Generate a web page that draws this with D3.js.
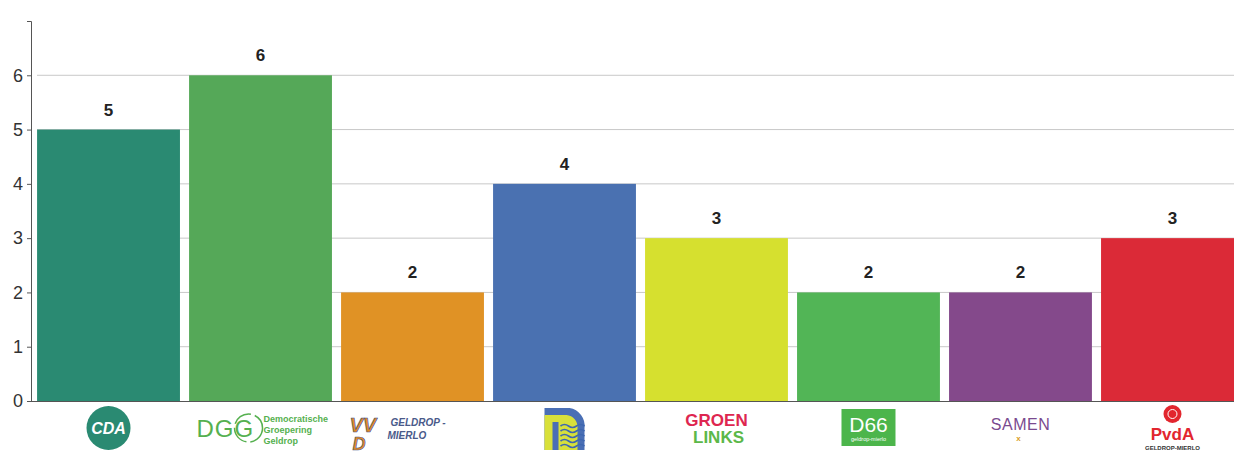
<!DOCTYPE html>
<html>
<head>
<meta charset="utf-8">
<script src="https://cdn.jsdelivr.net/npm/d3@7"></script>
<style>
  html, body { margin: 0; padding: 0; background: #fff; }
  svg { display: block; font-family: "Liberation Sans", Arial, sans-serif; }
</style>
</head>
<body>
<div class="container"></div>
<script>
// party names and seats
const parties = ['CDA', 'DGG', 'VVD', 'Dorpsbelang', 'GroenLinks', 'D66', 'SAMEN', 'PvdA'];
const seats = [5, 6, 2, 4, 3, 2, 2, 3];
const colors = ['#2a8a72', '#55a858', '#e09225', '#4a71b1', '#d6e02f', '#52b556', '#84498b', '#db2a37'];
const yTicks = [0, 1, 2, 3, 4, 5, 6, 7];

const width = 1234, height = 454;

const svg = d3.select('.container').append('svg')
  .attr('width', width)
  .attr('height', height);

const x = d3.scaleBand()
  .domain(parties)
  .range([31, 1250])
  .paddingInner(0.06)
  .paddingOuter(0.04);

const y = d3.scaleLinear().domain([0, 7]).range([401, 21]);

// gridlines
svg.append('g')
  .selectAll('line')
  .data(yTicks.filter(d => d > 0 && d < 7))
  .enter().append('line')
  .attr('x1', 37).attr('x2', width)
  .attr('y1', d => y(d)).attr('y2', d => y(d))
  .attr('stroke', '#c8c8c8')
  .attr('stroke-width', 1);

// bars
svg.append('g')
  .selectAll('rect')
  .data(parties)
  .enter().append('rect')
  .attr('x', d => x(d))
  .attr('y', (d, i) => y(seats[i]))
  .attr('width', x.bandwidth())
  .attr('height', (d, i) => y(0) - y(seats[i]))
  .attr('fill', (d, i) => colors[i]);

// value labels
svg.append('g')
  .selectAll('text')
  .data(parties)
  .enter().append('text')
  .attr('x', d => x(d) + x.bandwidth() / 2)
  .attr('y', (d, i) => y(seats[i]) - 14)
  .attr('text-anchor', 'middle')
  .attr('font-size', 17)
  .attr('font-weight', 'bold')
  .attr('fill', '#222')
  .text((d, i) => seats[i]);

// y axis
const yAxis = svg.append('g')
  .attr('transform', 'translate(31,0)')
  .call(d3.axisLeft(y).tickValues(yTicks).tickSize(4).tickSizeOuter(4)
    .tickFormat(d => d === 7 ? '' : d));
yAxis.select('.domain').attr('stroke', '#555');
yAxis.selectAll('.tick line').attr('stroke', '#555');
yAxis.selectAll('.tick text')
  .attr('font-size', 18)
  .attr('font-family', '"Liberation Sans", Arial, sans-serif')
  .attr('fill', '#333')
  .attr('x', -8);

// baseline
svg.append('line')
  .attr('x1', 27).attr('x2', width)
  .attr('y1', y(0) + 0.5).attr('y2', y(0) + 0.5)
  .attr('stroke', '#555')
  .attr('stroke-width', 1);

// logos under each bar
const logos = svg.append('g');
const cx = d => x(d) + x.bandwidth() / 2;

// CDA
let g = logos.append('g').attr('transform', `translate(${cx('CDA')},428)`);
g.append('circle').attr('r', 22).attr('fill', '#2a8a72');
g.append('text').attr('y', 6).attr('text-anchor', 'middle')
  .attr('font-size', 16).attr('font-weight', 'bold').attr('font-style', 'italic')
  .attr('fill', '#fff').text('CDA');

// DGG
g = logos.append('g').attr('transform', `translate(${cx('DGG')},428)`);
g.append('text').attr('x', -64).attr('y', 9)
  .attr('font-size', 24).attr('fill', '#55b04f').attr('letter-spacing', 1)
  .text('DGG');
g.append('circle').attr('cx', -12).attr('cy', 0).attr('r', 14)
  .attr('fill', 'none').attr('stroke', '#55b04f').attr('stroke-width', 1.5)
  .attr('stroke-dasharray', '20 4');
['Democratische', 'Groepering', 'Geldrop'].forEach((t, i) => {
  g.append('text').attr('x', 3).attr('y', -6 + i * 11)
    .attr('font-size', 9).attr('font-weight', 'bold').attr('fill', '#55b04f').text(t);
});

// VVD
g = logos.append('g').attr('transform', `translate(${cx('VVD')},428)`);
g.append('text').attr('x', -63).attr('y', 4)
  .attr('font-size', 20).attr('font-weight', 'bold').attr('font-style', 'italic')
  .attr('fill', '#e08a24').attr('stroke', '#3c4f8c').attr('stroke-width', 0.6)
  .text('VV');
g.append('text').attr('x', -60).attr('y', 22)
  .attr('font-size', 18).attr('font-weight', 'bold').attr('font-style', 'italic')
  .attr('fill', '#e08a24').attr('stroke', '#3c4f8c').attr('stroke-width', 0.6)
  .text('D');
g.append('text').attr('x', -22).attr('y', -2)
  .attr('font-size', 10).attr('font-weight', 'bold').attr('font-style', 'italic')
  .attr('fill', '#4a5a8a').text('GELDROP -');
g.append('text').attr('x', -25).attr('y', 11)
  .attr('font-size', 10).attr('font-weight', 'bold').attr('font-style', 'italic')
  .attr('fill', '#4a5a8a').text('MIERLO');

// Dorpsbelang
g = logos.append('g').attr('transform', `translate(${cx('Dorpsbelang')},428)`);
g.append('path')
  .attr('d', 'M-20,-20 H5 A18,18 0 0 1 20,0 V22 H-20 Z')
  .attr('fill', '#4a6fb5');
g.append('path')
  .attr('d', 'M-20,-13 H2 A12,12 0 0 1 13,0 V22 H-20 Z')
  .attr('fill', '#d8e03a');
g.append('rect').attr('x', -12).attr('y', -6).attr('width', 6).attr('height', 28).attr('fill', '#4a6fb5');
for (let i = 0; i < 5; i++) {
  g.append('path')
    .attr('d', `M-4,${-2 + i * 5} q4,-3 8,0 t8,0 t8,0`)
    .attr('fill', 'none').attr('stroke', '#3f67b0').attr('stroke-width', 1.6);
}

// GroenLinks
g = logos.append('g').attr('transform', `translate(${cx('GroenLinks')},428)`);
g.append('text').attr('y', -2).attr('text-anchor', 'middle')
  .attr('font-size', 17).attr('font-weight', 'bold').attr('fill', '#de2650').text('GROEN');
g.append('text').attr('x', 2).attr('y', 15).attr('text-anchor', 'middle')
  .attr('font-size', 17).attr('font-weight', 'bold').attr('fill', '#5cb849').text('LINKS');

// D66
g = logos.append('g').attr('transform', `translate(${cx('D66')},428)`);
g.append('rect').attr('x', -27).attr('y', -19).attr('width', 54).attr('height', 37).attr('fill', '#4cb54b');
g.append('text').attr('y', 4).attr('text-anchor', 'middle')
  .attr('font-size', 21).attr('fill', '#fff').text('D66');
g.append('text').attr('y', 13).attr('text-anchor', 'middle')
  .attr('font-size', 5.5).attr('fill', '#fff').text('geldrop-mierlo');

// SAMEN
g = logos.append('g').attr('transform', `translate(${cx('SAMEN')},428)`);
g.append('text').attr('y', 2).attr('text-anchor', 'middle')
  .attr('font-size', 16).attr('fill', '#7a4a8f').attr('letter-spacing', 0.5).text('SAMEN');
g.append('text').attr('x', -2).attr('y', 13).attr('text-anchor', 'middle')
  .attr('font-size', 8).attr('font-weight', 'bold').attr('fill', '#d9a02a').text('x');

// PvdA
g = logos.append('g').attr('transform', `translate(${cx('PvdA')},428)`);
g.append('circle').attr('cx', 0).attr('cy', -14).attr('r', 9).attr('fill', '#e2262e');
g.append('circle').attr('cx', 0).attr('cy', -14).attr('r', 4.5)
  .attr('fill', 'none').attr('stroke', '#fff').attr('stroke-width', 1);
g.append('text').attr('y', 12).attr('text-anchor', 'middle')
  .attr('font-size', 17).attr('font-weight', 'bold').attr('fill', '#e2262e').text('PvdA');
g.append('text').attr('y', 22).attr('text-anchor', 'middle')
  .attr('font-size', 6).attr('font-weight', 'bold').attr('fill', '#333').text('GELDROP-MIERLO');
</script>
</body>
</html>
